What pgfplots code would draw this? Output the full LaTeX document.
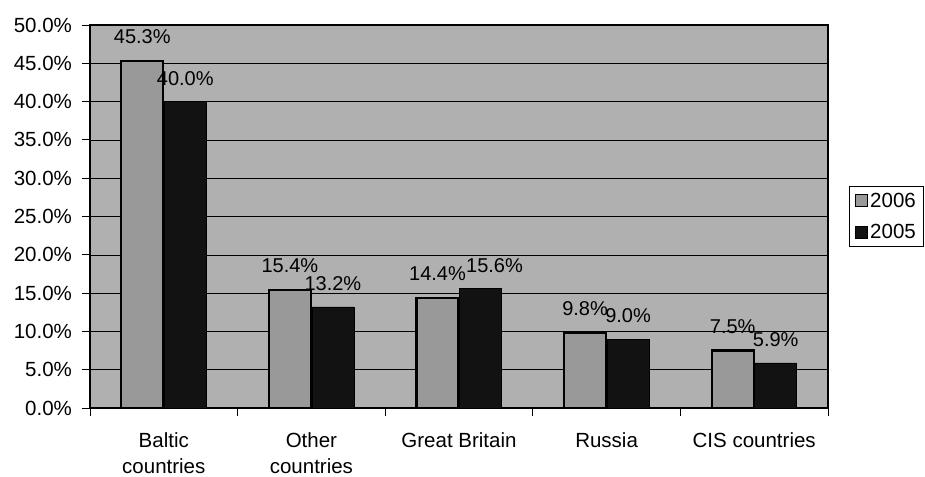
\documentclass[border=0pt]{standalone}
\usepackage{pgfplots}
\pgfplotsset{compat=1.18}
\usepackage{fontspec}
\setmainfont{Liberation Sans}
\definecolor{bgc}{gray}{0.69}
\definecolor{c06}{gray}{0.60}
\definecolor{c05}{gray}{0.07}
\begin{document}
\begin{tikzpicture}
\begin{axis}[
  name=ax,
  scale only axis,
  width=738pt, height=383pt,
  ybar=1pt, bar width=42pt,
  xmin=-0.5, xmax=4.5,
  ymin=0, ymax=50,
  ytick={0,5,...,50},
  yticklabel={\pgfmathprintnumber[fixed,fixed zerofill,precision=1]{\tick}\%},
  /pgf/number format/assume math mode=true,
  xtick={0,1,2,3,4},
  xticklabels={{Baltic\\countries},{Other\\countries},{Great Britain},{Russia},{CIS countries}},
  xticklabel style={align=center, font=\fontsize{20.5}{26}\selectfont, yshift=-13pt},
  yticklabel style={font=\fontsize{20.5}{22}\selectfont, xshift=-6.5pt},
  major x tick style={draw=none},
  minor xtick={-0.5,0.5,...,4.5},
  minor tick length=8pt,
  major tick length=8pt,
  tick style={black, line width=0.8pt},
  tick align=outside,
  tick pos=left,
  ymajorgrids, grid style={black, line width=0.6pt},
  axis background/.style={fill=bgc},
  axis line style={black, line width=1.2pt},
  legend style={at={(1,0.5)}, anchor=west, xshift=21pt, draw=black, line width=0.8pt,
    font=\fontsize{20.5}{22}\selectfont, inner xsep=6pt, inner ysep=4pt, row sep=12pt},
  legend cell align=left,
  legend image code/.code={\draw[#1, draw=black, line width=0.8pt] (0pt,-6pt) rectangle (12pt,6pt);},
  visualization depends on={value \coordindex \as \myidx},
  nodes near coords={\pgfmathprintnumber[fixed,fixed zerofill,precision=1]{\pgfplotspointmeta}\%},
  nodes near coords style={font=\fontsize{20}{22}\selectfont, black, inner sep=1pt, yshift=15pt},
  clip=false,
]
\addplot[fill=c06, draw=black, line width=2.2pt] coordinates {(0,45.3) (1,15.4) (2,14.4) (3,9.8) (4,7.5)};
\addplot[fill=c05, draw=black, line width=0.6pt,
  nodes near coords style={xshift={(\myidx==2)*14pt}}] coordinates {(0,40.0) (1,13.2) (2,15.6) (3,9.0) (4,5.9)};
\legend{2006,2005}
\end{axis}
\pgfresetboundingbox
\path ([xshift=-90pt,yshift=-68pt]ax.south west) rectangle ([xshift=97pt,yshift=25pt]ax.north east);
\end{tikzpicture}
\end{document}
